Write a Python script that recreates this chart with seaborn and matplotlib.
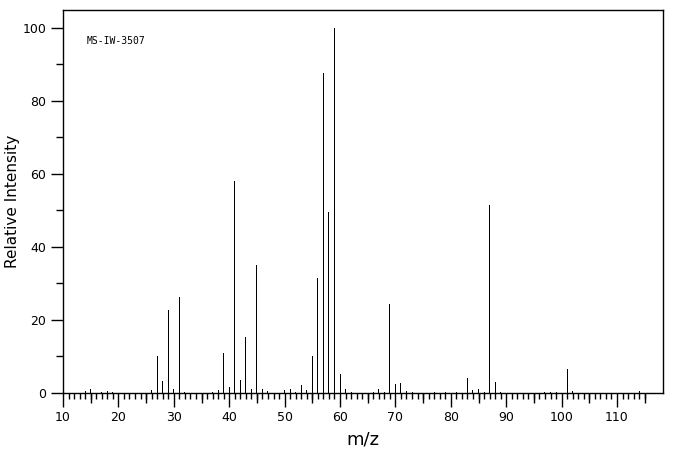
import numpy as np
import pandas as pd
import seaborn as sns
import matplotlib.pyplot as plt
from matplotlib.ticker import MultipleLocator, NullFormatter

# mass spectrum peaks (m/z, relative intensity)
mz = [14, 15, 17, 18, 19, 26, 27, 28, 29, 30, 31, 32, 37, 38, 39, 40, 41, 42,
      43, 44, 45, 46, 47, 50, 51, 52, 53, 54, 55, 56, 57, 58, 59, 60, 61, 62,
      66, 67, 68, 69, 70, 71, 72, 73, 77, 79, 81, 83, 84, 85, 86, 87, 88, 89,
      97, 98, 99, 101, 102, 114]
intensity = [0.5, 1.2, 0.4, 0.6, 0.3, 0.9, 10.2, 3.2, 22.6, 1.2, 26.3, 0.4,
             0.4, 0.7, 10.9, 1.7, 58.0, 3.5, 15.3, 1.0, 35.0, 1.0, 0.5, 0.7,
             1.0, 0.4, 2.3, 0.7, 10.0, 31.5, 87.7, 49.6, 100.0, 5.3, 1.0, 0.3,
             0.3, 1.2, 0.4, 24.5, 2.6, 2.8, 0.6, 0.3, 0.3, 0.4, 0.3, 4.2, 0.7,
             1.0, 0.4, 51.6, 3.1, 0.4, 0.3, 0.3, 0.3, 6.7, 0.6, 0.6]
sample_id = "MS-IW-3507"

df = pd.DataFrame({"mz": mz, "intensity": intensity})

sns.set_style("ticks", {"text.color": "black", "axes.labelcolor": "black",
                        "xtick.color": "black", "ytick.color": "black",
                        "axes.edgecolor": "black"})
plt.rcParams["font.family"] = ["DejaVu Sans"]

fig = plt.figure(figsize=(6.76, 4.55), dpi=100)
ax = fig.add_axes([63 / 676, 1 - 393 / 455, 600 / 676, 383 / 455])

sns.barplot(data=df, x="mz", y="intensity", native_scale=True, width=0.18,
            color="black", linewidth=0, antialiased=False, ax=ax)

ax.set_xlim(10, 118.3)
ax.set_ylim(0, 104.9)

ax.xaxis.set_major_locator(MultipleLocator(10))
ax.yaxis.set_major_locator(MultipleLocator(20))
ax.yaxis.set_minor_locator(MultipleLocator(10))
ax.set_xticks(np.arange(10, 116, 1), minor=True)
ax.tick_params(axis="x", which="major", length=10, width=1, direction="out",
               labelsize=9, pad=3)
ax.tick_params(axis="x", which="minor", length=4, width=1, direction="out")
ax.tick_params(axis="y", which="major", length=9, width=1, direction="out",
               labelsize=9, pad=3)
ax.tick_params(axis="y", which="minor", length=5, width=1, direction="out")

# medium ticks every 5 on m/z axis
sec = ax.secondary_xaxis("bottom")
sec.set_xticks(np.arange(15, 116, 10))
sec.xaxis.set_major_formatter(NullFormatter())
sec.tick_params(length=7, width=1, direction="out", color="black")
sec.spines["bottom"].set_visible(False)

for s in ax.spines.values():
    s.set_visible(True)
    s.set_linewidth(1)
    s.set_color("black")

ax.set_xlabel("m/z", fontsize=13, labelpad=5)
ax.set_ylabel("Relative Intensity", fontsize=11, labelpad=10)
ax.yaxis.set_label_coords(-0.072, 0.5)
ax.text(14.3, 96.4, sample_id, family="DejaVu Sans Mono", fontsize=7,
        va="center", ha="left")

fig.savefig("out.png", dpi=100)
